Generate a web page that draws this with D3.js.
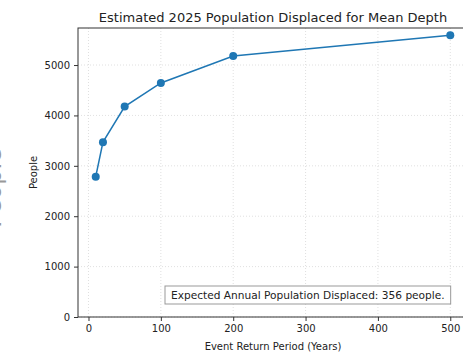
<!DOCTYPE html>
<html>
<head>
<meta charset="utf-8">
<script src="https://cdn.jsdelivr.net/npm/d3@7"></script>
<style>
  body { margin: 0; background: #fff; overflow: hidden; }
  svg { display: block; font-family: "DejaVu Sans", sans-serif; }
</style>
</head>
<body>
<div id="chart"></div>
<script>
// data
var returnPeriods = [10, 20, 50, 100, 200, 500];
var displaced = [2785, 3470, 4175, 4645, 5180, 5590];
var xTicks = [0, 100, 200, 300, 400, 500];
var yTicks = [0, 1000, 2000, 3000, 4000, 5000];
var title = "Estimated 2025 Population Displaced for Mean Depth";
var note = "Expected Annual Population Displaced: 356 people.";

var svgWidth = 463, svgHeight = 353;
var margin = { top: 28, right: -5, bottom: 36, left: 78 };
var width = svgWidth - margin.left - margin.right;
var height = svgHeight - margin.top - margin.bottom;

var svg = d3.select("#chart")
  .append("svg")
  .attr("width", svgWidth)
  .attr("height", svgHeight);

// big cut off label on the far left, only its edge shows
svg.append("text")
  .attr("transform", "translate(1, 188) rotate(-90)")
  .attr("text-anchor", "middle")
  .attr("font-size", "24px")
  .attr("fill", "#999")
  .text("People");

var chartGroup = svg.append("g")
  .attr("transform", `translate(${margin.left}, ${margin.top})`);

var xScale = d3.scaleLinear()
  .domain([-14.5, 524.5])
  .range([0, width]);

var yScale = d3.scaleLinear()
  .domain([0, 5735])
  .range([height, 0]);

// grid
chartGroup.append("g")
  .selectAll("line")
  .data(xTicks)
  .enter()
  .append("line")
  .attr("x1", d => xScale(d))
  .attr("x2", d => xScale(d))
  .attr("y1", 0)
  .attr("y2", height)
  .attr("stroke", "#d8d8d8")
  .attr("stroke-width", 0.8)
  .attr("stroke-dasharray", "1,2");

chartGroup.append("g")
  .selectAll("line")
  .data(yTicks)
  .enter()
  .append("line")
  .attr("x1", 0)
  .attr("x2", width)
  .attr("y1", d => yScale(d))
  .attr("y2", d => yScale(d))
  .attr("stroke", "#d8d8d8")
  .attr("stroke-width", 0.8)
  .attr("stroke-dasharray", "1,2");

// axes
var bottomAxis = d3.axisBottom(xScale).tickValues(xTicks).tickFormat(d3.format("d")).tickSize(4).tickPadding(4);
var leftAxis = d3.axisLeft(yScale).tickValues(yTicks).tickFormat(d3.format("d")).tickSize(4).tickPadding(4);

var xAxisG = chartGroup.append("g")
  .attr("transform", `translate(0, ${height})`)
  .call(bottomAxis);
var yAxisG = chartGroup.append("g")
  .call(leftAxis);

[xAxisG, yAxisG].forEach(function(g) {
  g.select(".domain").remove();
  g.selectAll("line").attr("stroke", "#333");
  g.selectAll("text")
    .attr("font-size", "10px")
    .attr("fill", "#222")
    .attr("font-family", "DejaVu Sans, sans-serif");
});

// frame
chartGroup.append("rect")
  .attr("width", width)
  .attr("height", height)
  .attr("fill", "none")
  .attr("stroke", "#333")
  .attr("stroke-width", 1);

// line + markers
var points = returnPeriods.map((d, i) => ({ x: d, y: displaced[i] }));
var line = d3.line()
  .x(d => xScale(d.x))
  .y(d => yScale(d.y));

chartGroup.append("path")
  .datum(points)
  .attr("d", line)
  .attr("fill", "none")
  .attr("stroke", "#1f77b4")
  .attr("stroke-width", 1.5);

chartGroup.selectAll("circle")
  .data(points)
  .enter()
  .append("circle")
  .attr("cx", d => xScale(d.x))
  .attr("cy", d => yScale(d.y))
  .attr("r", 4)
  .attr("fill", "#1f77b4");

// note box
var noteG = chartGroup.append("g");
var noteText = noteG.append("text")
  .attr("x", 93)
  .attr("y", height - 18)
  .attr("font-size", "10.6px")
  .attr("fill", "#222")
  .text(note);
var bb = noteText.node().getBBox();
noteG.insert("rect", "text")
  .attr("x", bb.x - 6)
  .attr("y", bb.y - 3)
  .attr("width", bb.width + 12)
  .attr("height", bb.height + 6)
  .attr("fill", "#fff")
  .attr("stroke", "#999");

// title and labels
chartGroup.append("text")
  .attr("x", width / 2)
  .attr("y", -6)
  .attr("text-anchor", "middle")
  .attr("font-size", "13px")
  .attr("fill", "#222")
  .text(title);

chartGroup.append("text")
  .attr("x", width / 2)
  .attr("y", height + 33)
  .attr("text-anchor", "middle")
  .attr("font-size", "10px")
  .attr("fill", "#222")
  .text("Event Return Period (Years)");

chartGroup.append("text")
  .attr("transform", `translate(-41, ${height / 2}) rotate(-90)`)
  .attr("text-anchor", "middle")
  .attr("font-size", "10px")
  .attr("fill", "#222")
  .text("People");
</script>
</body>
</html>
